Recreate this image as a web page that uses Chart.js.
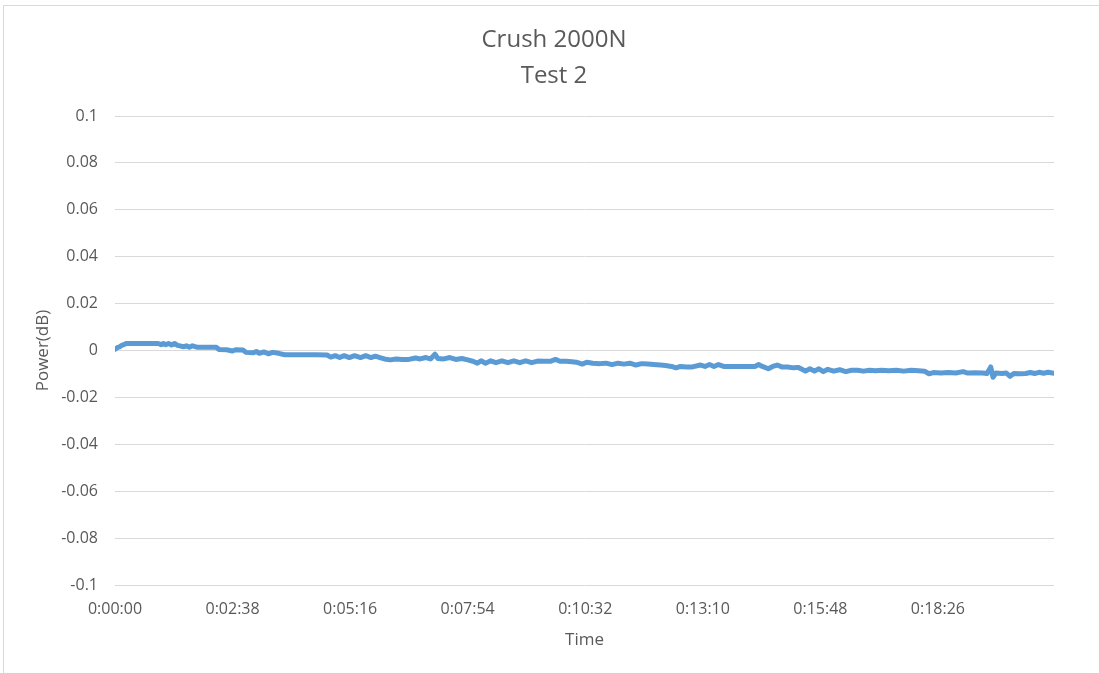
<!DOCTYPE html>
<html>
<head>
<meta charset="utf-8">
<title>Crush 2000N - Test 2</title>
<script src="https://cdn.jsdelivr.net/npm/chart.js@4.4.1/dist/chart.umd.min.js"></script>
<style>
    html, body { margin: 0; padding: 0; background: #fff; overflow: hidden; }
    #frame { position: absolute; left: 3px; top: 5px; width: 1200px; height: 800px; border: 1px solid #d9d9d9; }
    #powerChart { position: absolute; left: 0; top: 0; }
</style>
</head>
<body>
<div id="frame"></div>
<canvas id="powerChart" width="1099" height="673"></canvas>
<script>
// time in seconds since start
const timeSec = [
    0, 3, 6, 9, 12, 15, 30, 45, 58, 62, 65, 68, 72, 76, 80, 84, 87, 92, 96, 100,
    104, 110, 125, 136, 140, 150, 158, 162, 172, 176, 186, 190, 194, 200, 206, 212, 220, 228, 250, 270,
    285, 290, 296, 302, 308, 315, 322, 330, 337, 344, 350, 356, 362, 370, 378, 386, 395, 404, 410, 418,
    424, 430, 434, 442, 450, 458, 466, 474, 481, 487, 492, 498, 505, 512, 520, 528, 536, 544, 552, 560,
    568, 576, 585, 592, 598, 606, 614, 620, 628, 634, 642, 652, 660, 668, 676, 684, 692, 700, 708, 716,
    724, 733, 740, 748, 754, 760, 768, 776, 787, 793, 799, 805, 811, 818, 830, 845, 860, 865, 870, 878,
    884, 890, 896, 904, 912, 918, 922, 928, 934, 940, 946, 952, 958, 966, 974, 982, 990, 998, 1006, 1014,
    1022, 1030, 1040, 1050, 1060, 1070, 1080, 1088, 1094, 1100, 1110, 1120, 1130, 1140, 1146, 1156, 1166, 1172, 1177, 1180,
    1184, 1192, 1198, 1203, 1208, 1216, 1224, 1230, 1236, 1242, 1248, 1254, 1262
];

const powerDb = [
    0.0005, 0.0012, 0.0015, 0.0022, 0.0025, 0.003, 0.003, 0.003, 0.003, 0.0025, 0.003, 0.0025, 0.003, 0.0024, 0.003, 0.0022, 0.002, 0.0016, 0.002, 0.0014,
    0.002, 0.0014, 0.0014, 0.0014, 0.0004, 0.0003, -0.0002, 0.0003, 0.0002, -0.0008, -0.001, -0.0004, -0.0012, -0.0006, -0.0014, -0.0008, -0.0012, -0.0018, -0.0018, -0.0018,
    -0.0019, -0.0028, -0.0022, -0.003, -0.0022, -0.003, -0.0022, -0.003, -0.0022, -0.003, -0.0024, -0.003, -0.0036, -0.004, -0.0036, -0.0038, -0.0038, -0.0032, -0.0036, -0.003,
    -0.0036, -0.0016, -0.0034, -0.0036, -0.003, -0.0038, -0.0034, -0.004, -0.0046, -0.0054, -0.0044, -0.0054, -0.0044, -0.0052, -0.0044, -0.0052, -0.0044, -0.0052, -0.0044, -0.0052,
    -0.0045, -0.0046, -0.0046, -0.0038, -0.0046, -0.0046, -0.0048, -0.005, -0.0058, -0.005, -0.0054, -0.0056, -0.0054, -0.006, -0.0054, -0.0058, -0.0054, -0.0062, -0.0056, -0.0058,
    -0.006, -0.0062, -0.0064, -0.0068, -0.0074, -0.0068, -0.007, -0.007, -0.0062, -0.0068, -0.006, -0.0068, -0.006, -0.0068, -0.0068, -0.0068, -0.0068, -0.006, -0.0068, -0.0078,
    -0.0068, -0.0062, -0.007, -0.007, -0.0074, -0.0072, -0.0078, -0.0088, -0.0078, -0.0088, -0.0078, -0.009, -0.008, -0.0088, -0.0082, -0.009, -0.0084, -0.0084, -0.0088, -0.0084,
    -0.0086, -0.0084, -0.0086, -0.0084, -0.0088, -0.0084, -0.0086, -0.0088, -0.0099, -0.0094, -0.0096, -0.0094, -0.0096, -0.009, -0.0096, -0.0095, -0.0096, -0.0098, -0.007, -0.0114,
    -0.0096, -0.0098, -0.0096, -0.011, -0.0098, -0.0099, -0.0098, -0.0094, -0.0098, -0.0093, -0.0097, -0.0093, -0.0097
];

const titleLines = ['Crush 2000N', 'Test 2'];
// x labels sit every 158 s (0:02:38)
const xTickSec = [0, 158, 316, 474, 632, 790, 948, 1106];
const xMax = 1262;
const yMin = -0.1, yMax = 0.1, yStep = 0.02;

const textGrey = '#595959';
const gridGrey = '#d9d9d9';
const lineBlue = '#5b9bd5';
const fontFamily = '"Open Sans", "Liberation Sans", sans-serif';

function fmtTime(s) {
    s = Math.round(s);
    const h = Math.floor(s / 3600);
    const m = Math.floor((s % 3600) / 60);
    const sec = s % 60;
    return h + ':' + String(m).padStart(2, '0') + ':' + String(sec).padStart(2, '0');
}

const points = timeSec.map((t, i) => ({ x: t, y: powerDb[i] }));

new Chart(document.getElementById('powerChart'), {
    type: 'line',
    data: {
        datasets: [{
            label: 'Power',
            data: points,
            borderColor: lineBlue,
            borderWidth: 5,
            borderJoinStyle: 'round',
            borderCapStyle: 'round',
            pointRadius: 0,
            tension: 0,
            fill: false
        }]
    },
    options: {
        responsive: false,
        animation: false,
        layout: { padding: { left: 9, right: 0, top: 0, bottom: 0 } },
        plugins: {
            legend: { display: false },
            tooltip: { enabled: false },
            title: {
                display: true,
                text: titleLines,
                color: textGrey,
                font: { family: fontFamily, size: 24, weight: 'normal', lineHeight: 1.5 },
                padding: { top: 22, bottom: 22 }
            }
        },
        scales: {
            x: {
                type: 'linear',
                min: 0,
                max: xMax,
                grid: { display: false, drawTicks: false },
                border: { display: false },
                afterBuildTicks: s => { s.ticks = xTickSec.map(v => ({ value: v })); },
                ticks: {
                    autoSkip: false,
                    maxRotation: 0,
                    padding: 15,
                    color: textGrey,
                    font: { family: fontFamily, size: 16 },
                    callback: v => fmtTime(v)
                },
                title: {
                    display: true,
                    text: 'Time',
                    color: textGrey,
                    font: { family: fontFamily, size: 17 },
                    padding: { top: 0, bottom: 23 }
                },
                afterFit: s => { s.height = 88; }
            },
            y: {
                min: yMin,
                max: yMax,
                grid: { color: gridGrey, lineWidth: 1, drawTicks: false },
                border: { display: false },
                ticks: {
                    stepSize: yStep,
                    padding: 17,
                    color: textGrey,
                    font: { family: fontFamily, size: 16 },
                    callback: v => String(+v.toFixed(2))
                },
                title: {
                    display: true,
                    text: 'Power(dB)',
                    color: textGrey,
                    font: { family: fontFamily, size: 17 },
                    padding: { top: 24, bottom: 0 }
                },
                afterFit: s => { s.width = 106; }
            },
            // empty right-hand strip so the title centres like the reference
            yRight: {
                position: 'right',
                min: yMin,
                max: yMax,
                grid: { display: false, drawTicks: false },
                border: { display: false },
                ticks: { display: false },
                afterFit: s => { s.width = 45; }
            }
        }
    }
});
</script>
</body>
</html>
